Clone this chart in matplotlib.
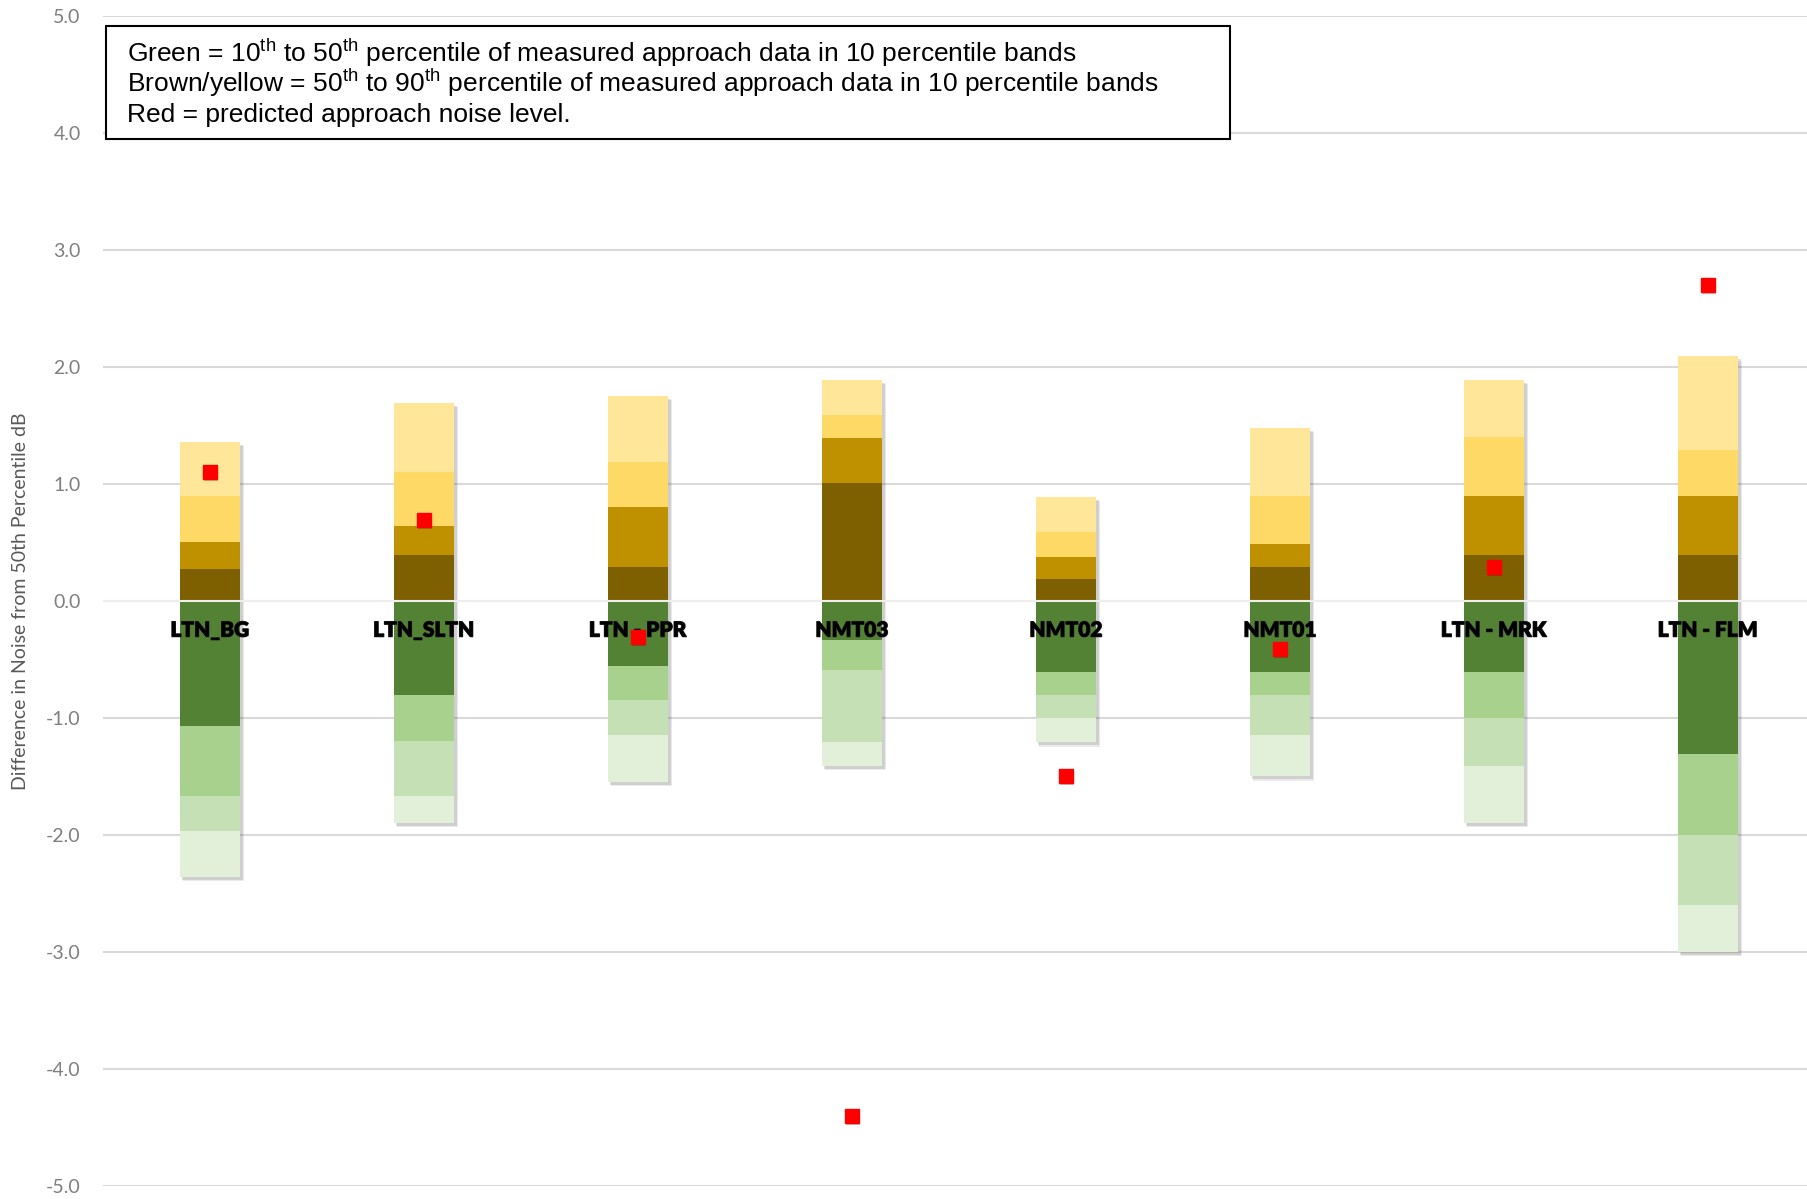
import numpy as np
import matplotlib
matplotlib.use('Agg')
import matplotlib.pyplot as plt
import matplotlib.patheffects as pe
from matplotlib.patches import Rectangle

plt.rcParams['axes.unicode_minus'] = False
plt.rcParams['mathtext.fontset'] = 'custom'
plt.rcParams['mathtext.rm'] = 'Liberation Sans'

# monitor sites
sites = ['LTN_BG', 'LTN_SLTN', 'LTN - PPR', 'NMT03', 'NMT02', 'NMT01',
         'LTN - MRK', 'LTN - FLM']

# percentile boundaries, difference from 50th percentile (dB)
p90 = [1.36, 1.69, 1.75, 1.89, 0.89, 1.48, 1.89, 2.09]
p80 = [0.90, 1.10, 1.19, 1.59, 0.59, 0.90, 1.40, 1.29]
p70 = [0.50, 0.64, 0.80, 1.39, 0.38, 0.49, 0.90, 0.90]
p60 = [0.27, 0.39, 0.29, 1.01, 0.19, 0.29, 0.39, 0.39]
p40 = [-1.07, -0.80, -0.56, -0.33, -0.61, -0.61, -0.61, -1.31]
p30 = [-1.67, -1.20, -0.85, -0.59, -0.80, -0.80, -1.00, -2.00]
p20 = [-1.97, -1.67, -1.15, -1.21, -1.00, -1.15, -1.41, -2.60]
p10 = [-2.36, -1.90, -1.55, -1.41, -1.21, -1.50, -1.90, -3.00]

# predicted approach noise level
predicted = [1.10, 0.69, -0.31, -4.40, -1.50, -0.41, 0.29, 2.70]

yticks = [-5, -4, -3, -2, -1, 0, 1, 2, 3, 4, 5]

bands = [
    (np.zeros(8), p60, '#7F6000'),
    (p60, p70, '#BF9000'),
    (p70, p80, '#FFD966'),
    (p80, p90, '#FFE699'),
    (np.zeros(8), p40, '#548235'),
    (p40, p30, '#A9D18E'),
    (p30, p20, '#C5E0B4'),
    (p20, p10, '#E2F0D9'),
]

fig = plt.figure(figsize=(18.07, 11.99), dpi=100)
ax = fig.add_axes([103 / 1807, 0.0110, 1 - 103 / 1807, 0.97557])

x = np.arange(len(sites))
w = 0.285

# soft drop shadow behind each column
for off, a in [((2.5, -3.0), 0.12), ((1.5, -2.0), 0.18)]:
    ax.bar(x, np.array(p90) - np.array(p10), bottom=p10, width=w,
           color='none', zorder=1.5,
           path_effects=[pe.SimplePatchShadow(offset=off,
                                              shadow_rgbFace='#555555',
                                              alpha=a)])

for lo, hi, col in bands:
    lo = np.array(lo, dtype=float)
    hi = np.array(hi, dtype=float)
    ax.bar(x, hi - lo, bottom=lo, width=w, color=col, zorder=2, linewidth=0)

ax.axhline(0, color='#eeeeee', lw=1.5, zorder=3)

for i, name in enumerate(sites):
    ax.text(i, -0.25, name, ha='center', va='center', fontsize=15,
            fontweight='heavy', family='Lato', color='#000000', zorder=4,
            path_effects=[pe.withStroke(linewidth=0.8, foreground='#222222')])

ax.plot(x, predicted, 's', color='#ff0000', ms=10, zorder=5,
        path_effects=[pe.SimplePatchShadow(offset=(1, -1.5), alpha=0.25),
                      pe.Normal()])

ax.set_xlim(-0.5, -0.5 + (1807 - 103) / 214.0)
ax.set_ylim(-5, 5)
ax.set_yticks(yticks)
ax.set_yticklabels(['%.1f' % v for v in yticks], fontsize=14,
                   color='#7f7f7f', family='Lato')
ax.set_xticks([])
ax.tick_params(axis='y', length=0, pad=16)
ax.yaxis.grid(True, color='#d9d9d9', lw=1.5, zorder=0)
ax.set_axisbelow(True)
for s in ax.spines.values():
    s.set_visible(False)

fig.text(0.0116, 0.4988, 'Difference in Noise from 50th Percentile dB',
         rotation=90, ha='center', va='center', fontsize=14,
         color='#595959', family='Lato')

# legend note box
fig.patches.append(Rectangle((106 / 1807, 0.8837), 1124 / 1807, 0.0942,
                             transform=fig.transFigure, fill=True,
                             facecolor='white', edgecolor='black', lw=1.5,
                             zorder=6))
notes = [
    r'Green = 10$^{\mathrm{th}}$ to 50$^{\mathrm{th}}$ percentile of measured '
    r'approach data in 10 percentile bands',
    r'Brown/yellow = 50$^{\mathrm{th}}$ to 90$^{\mathrm{th}}$ percentile of '
    r'measured approach data in 10 percentile bands',
    'Red = predicted approach noise level.',
]
for yy, t in zip([0.9485, 0.9235, 0.8984], notes):
    fig.text(127 / 1807, yy, t, ha='left', va='baseline', fontsize=19,
             family='Liberation Sans', color='black', zorder=7)

fig.savefig('out.png', dpi=100)
